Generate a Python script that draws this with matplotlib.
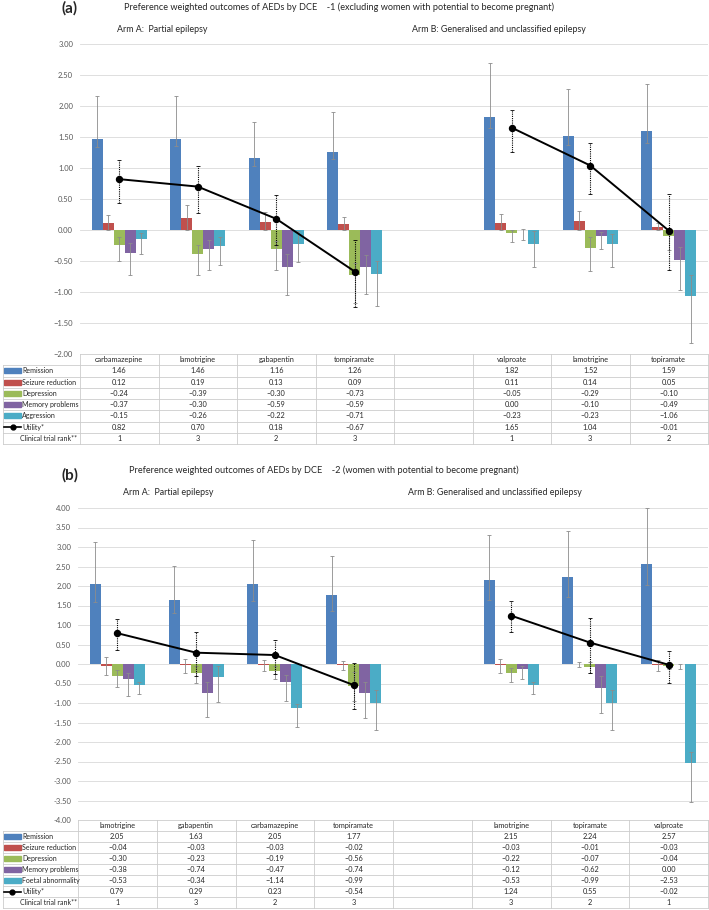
import matplotlib
matplotlib.use("Agg")
import matplotlib.pyplot as plt
from matplotlib.patches import Rectangle
from matplotlib.ticker import FuncFormatter, MultipleLocator
import numpy as np

plt.rcParams['font.family'] = ['Lato', 'DejaVu Sans']

nan = np.nan

# ---------- panel (a) data ----------
a_drugs = ["carbamazepine", "lamotrigine", "gabapentin", "tompiramate", "",
           "valproate", "lamotrigine", "topiramate"]
a_remission = [1.46, 1.46, 1.16, 1.26, nan, 1.82, 1.52, 1.59]
a_seizure = [0.12, 0.19, 0.13, 0.09, nan, 0.11, 0.14, 0.05]
a_depression = [-0.24, -0.39, -0.30, -0.73, nan, -0.05, -0.29, -0.10]
a_memory = [-0.37, -0.30, -0.59, -0.59, nan, 0.00, -0.10, -0.49]
a_aggression = [-0.15, -0.26, -0.22, -0.71, nan, -0.23, -0.23, -1.06]
a_utility = [0.82, 0.70, 0.18, -0.67, nan, 1.65, 1.04, -0.01]
a_rank = [1, 3, 2, 3, None, 1, 3, 2]

# confidence intervals (low, high)
a_remission_ci = [(1.34, 2.16), (1.35, 2.16), (1.04, 1.74), (1.14, 1.90), None, (1.64, 2.69), (1.37, 2.27), (1.41, 2.35)]
a_seizure_ci = [(0.00, 0.25), (0.00, 0.41), (0.00, 0.29), (0.00, 0.21), None, (0.00, 0.26), (0.00, 0.31), (0.00, 0.11)]
a_depression_ci = [(-0.50, -0.12), (-0.73, -0.24), (-0.65, -0.18), (-1.17, -0.54), None, (-0.20, 0.00), (-0.66, -0.12), (-0.32, 0.00)]
a_memory_ci = [(-0.73, -0.21), (-0.65, -0.16), (-1.05, -0.39), (-1.04, -0.40), None, (-0.16, 0.02), (-0.31, -0.04), (-0.97, -0.27)]
a_aggression_ci = [(-0.39, -0.05), (-0.57, -0.11), (-0.51, -0.01), (-1.23, -0.50), None, (-0.59, -0.02), (-0.59, -0.07), (-1.83, -0.73)]
a_utility_ci = [(0.44, 1.13), (0.27, 1.03), (-0.24, 0.56), (-1.24, -0.16), None, (1.26, 1.94), (0.58, 1.41), (-0.65, 0.58)]

# ---------- panel (b) data ----------
b_drugs = ["lamotrigine", "gabapentin", "carbamazepine", "tompiramate", "",
           "lamotrigine", "topiramate", "valproate"]
b_remission = [2.05, 1.63, 2.05, 1.77, nan, 2.15, 2.24, 2.57]
b_seizure = [-0.04, -0.03, -0.03, -0.02, nan, -0.03, -0.01, -0.03]
b_depression = [-0.30, -0.23, -0.19, -0.56, nan, -0.22, -0.07, -0.04]
b_memory = [-0.38, -0.74, -0.47, -0.74, nan, -0.12, -0.62, 0.00]
b_foetal = [-0.53, -0.34, -1.14, -0.99, nan, -0.53, -0.99, -2.53]
b_utility = [0.79, 0.29, 0.23, -0.54, nan, 1.24, 0.55, -0.02]
b_rank = [1, 3, 2, 3, None, 3, 2, 1]

b_remission_ci = [(1.60, 3.14), (1.31, 2.52), (1.62, 3.18), (1.35, 2.78), None, (1.65, 3.30), (1.72, 3.41), (2.02, 4.00)]
b_seizure_ci = [(-0.28, 0.19), (-0.22, 0.13), (-0.19, 0.09), (-0.16, 0.08), None, (-0.22, 0.13), (-0.07, 0.04), (-0.17, 0.11)]
b_depression_ci = [(-0.60, -0.15), (-0.49, -0.05), (-0.39, -0.05), (-0.95, -0.20), None, (-0.47, -0.10), (-0.22, 0.05), (-0.12, 0.03)]
b_memory_ci = [(-0.82, -0.22), (-1.36, -0.45), (-0.95, -0.27), (-1.38, -0.45), None, (-0.39, -0.05), (-1.26, -0.30), (-0.14, 0.00)]
b_foetal_ci = [(-0.77, -0.46), (-0.97, -0.05), (-1.62, -1.03), (-1.68, -0.67), None, (-0.77, -0.45), (-1.68, -0.67), (-3.53, -2.26)]
b_utility_ci = [(0.36, 1.15), (-0.30, 0.82), (-0.26, 0.62), (-1.16, 0.02), None, (0.83, 1.62), (-0.23, 1.17), (-0.49, 0.34)]

colors = ["#4F81BD", "#C0504D", "#9BBB59", "#8064A2", "#4BACC6"]

W, H = 709, 910
fig = plt.figure(figsize=(W / 100, H / 100), dpi=100)


def frac(x0, y0, x1, y1):
    return [x0 / W, 1 - y1 / H, (x1 - x0) / W, (y1 - y0) / H]


def fmt(v):
    return f"{v:.2f}".replace("-", "\u2212")


def panel(left, top, bottom, tbl_bottom, ylim, ystep, tickfmt,
          drugs, series, cis, names, utility, utility_ci, rank):
    right = 708
    ax = fig.add_axes(frac(left, top, right, bottom))
    n = len(drugs)
    x = np.arange(n)
    colw = (right - left) / n
    bw = 0.14

    for k, (vals, ci) in enumerate(zip(series, cis)):
        xs = x + (k - 2) * bw
        ax.bar(xs, vals, width=bw, color=colors[k], zorder=2)
        for i in range(n):
            if ci[i] is None:
                continue
            lo, hi = ci[i]
            ax.errorbar(xs[i], vals[i], yerr=[[vals[i] - lo], [hi - vals[i]]],
                        fmt='none', ecolor='#8c8c8c', elinewidth=0.6,
                        capsize=1.6, capthick=0.6, zorder=3)

    ax.plot(x, utility, color='black', lw=1.4, marker='o', ms=4.3, zorder=5)
    for i in range(n):
        if utility_ci[i] is None:
            continue
        lo, hi = utility_ci[i]
        eb = ax.errorbar(x[i], utility[i], yerr=[[utility[i] - lo], [hi - utility[i]]],
                         fmt='none', ecolor='black', elinewidth=0.8,
                         capsize=1.6, capthick=0.6, zorder=4)
        eb[2][0].set_linestyle((0, (1, 1)))

    ax.set_xlim(-0.5, n - 0.5)
    ax.set_ylim(*ylim)
    ax.yaxis.set_major_locator(MultipleLocator(ystep))
    ax.yaxis.set_major_formatter(FuncFormatter(tickfmt))
    ax.grid(axis='y', color='#d9d9d9', lw=0.6, zorder=0)
    ax.set_axisbelow(True)
    ax.set_xticks([])
    ax.tick_params(axis='y', length=0, labelsize=5.5, labelcolor='#595959', pad=5)
    for s in ax.spines.values():
        s.set_visible(False)

    # data table under the plot
    tax = fig.add_axes(frac(left, bottom, right, tbl_bottom))
    tax.set_xlim(-0.5, n - 0.5)
    tax.set_ylim(8, 0)
    tax.axis('off')

    def px(p):
        return -0.5 + (p - left) / colw

    lc = '#cccccc'
    lx0 = px(3)
    tax.plot([-0.5, n - 0.5], [0, 0], color=lc, lw=0.6, clip_on=False)
    for r in range(1, 9):
        tax.plot([lx0, n - 0.5], [r, r], color=lc, lw=0.6, clip_on=False)
    for c in range(n + 1):
        tax.plot([c - 0.5, c - 0.5], [0, 8], color=lc, lw=0.6, clip_on=False)
    tax.plot([lx0, lx0], [1, 8], color=lc, lw=0.6, clip_on=False)

    tcol = '#262626'
    fs = 5.3
    lfs = 5.0
    for i, d in enumerate(drugs):
        tax.text(i, 0.5, d, ha='center', va='center', fontsize=fs, color=tcol)

    rows = [(names[k], series[k]) for k in range(5)] + [("Utility*", utility)]
    for r, (nm, vals) in enumerate(rows, start=1):
        yc = r + 0.5
        if r <= 5:
            tax.add_patch(Rectangle((px(4), yc - 0.22), px(21) - px(4), 0.44,
                                    color=colors[r - 1], clip_on=False))
        else:
            tax.plot([px(4), px(21)], [yc, yc], color='black', lw=1.2, clip_on=False)
            tax.plot([px(12.5)], [yc], color='black', marker='o', ms=3.5, clip_on=False)
        tax.text(px(22), yc, nm, ha='left', va='center', fontsize=lfs, color=tcol)
        for i, v in enumerate(vals):
            if np.isnan(v):
                continue
            tax.text(i, yc, fmt(v), ha='center', va='center', fontsize=fs, color=tcol)
    tax.text(px(77), 7.5, "Clinical trial rank**", ha='right', va='center',
             fontsize=lfs, color=tcol)
    for i, v in enumerate(rank):
        if v is None:
            continue
        tax.text(i, 7.5, str(v), ha='center', va='center', fontsize=fs, color=tcol)


panel(80, 44, 354, 444, (-2, 3), 0.5, lambda v, p: fmt(v),
      a_drugs, [a_remission, a_seizure, a_depression, a_memory, a_aggression],
      [a_remission_ci, a_seizure_ci, a_depression_ci, a_memory_ci, a_aggression_ci],
      ["Remission", "Seizure reduction", "Depression", "Memory problems", "Aggression"],
      a_utility, a_utility_ci, a_rank)

panel(78, 508, 820, 908, (-4, 4), 0.5, lambda v, p: f"{v:.2f}",
      b_drugs, [b_remission, b_seizure, b_depression, b_memory, b_foetal],
      [b_remission_ci, b_seizure_ci, b_depression_ci, b_memory_ci, b_foetal_ci],
      ["Remission", "Seizure reduction", "Depression", "Memory problems", "Foetal abnormality"],
      b_utility, b_utility_ci, b_rank)


def ftext(xp, yp, s, **kw):
    fig.text(xp / W, 1 - yp / H, s, va='center', **kw)


ftext(61, 8, "(a)", fontsize=11, fontweight='bold', color='#262626')
ftext(124, 7, "Preference weighted outcomes of AEDs by DCE    -1 (excluding women with potential to become pregnant)",
      fontsize=6.6, color='#262626')
ftext(117, 30, "Arm A:  Partial epilepsy", fontsize=6.4, color='#262626')
ftext(412, 30, "Arm B: Generalised and unclassified epilepsy", fontsize=6.4, color='#262626')

ftext(61, 475, "(b)", fontsize=11, fontweight='bold', color='#262626')
ftext(129, 470, "Preference weighted outcomes of AEDs by DCE    -2 (women with potential to become pregnant)",
      fontsize=6.6, color='#262626')
ftext(123, 493, "Arm A:  Partial epilepsy", fontsize=6.4, color='#262626')
ftext(408, 493, "Arm B: Generalised and unclassified epilepsy", fontsize=6.4, color='#262626')

fig.savefig("out.png", dpi=100)
